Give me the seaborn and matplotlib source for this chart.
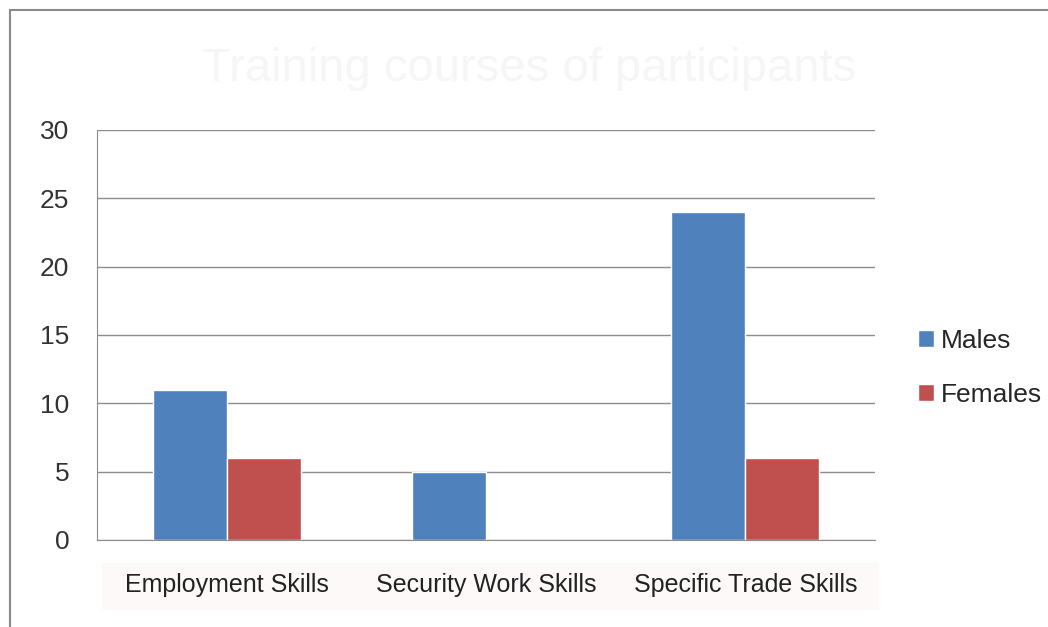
import pandas as pd
import seaborn as sns
import matplotlib.pyplot as plt
from matplotlib.patches import Rectangle

# chart data
categories = ['Employment Skills', 'Security Work Skills', 'Specific Trade Skills']
males = [11, 5, 24]
females = [6, 0, 6]
series = ['Males', 'Females']
colors = ['#4F81BD', '#C0504D']

df = pd.DataFrame({
    'category': categories * 2,
    'value': males + females,
    'group': [series[0]] * 3 + [series[1]] * 3,
})

sns.set_style('white')
plt.rcParams['font.family'] = ['Liberation Sans', 'DejaVu Sans']

fig = plt.figure(figsize=(10.48, 6.27), dpi=100)
ax = fig.add_axes([0.0926, 0.1388, 0.7424, 0.6539])

sns.barplot(data=df, x='category', y='value', hue='group', palette=colors,
            width=0.57, saturation=1, ax=ax, legend=True)

ax.set_ylim(0, 30)
ax.set_yticks(range(0, 31, 5))
ax.yaxis.grid(True, color='#8c8c8c', linewidth=1)
ax.set_axisbelow(True)
for s in ['top', 'right']:
    ax.spines[s].set_visible(False)
ax.spines['left'].set_color('#8c8c8c')
ax.spines['bottom'].set_color('#8c8c8c')
ax.set_xlabel('')
ax.set_ylabel('')
ax.tick_params(axis='y', labelsize=19, pad=20, colors='#333333', length=0)
ax.tick_params(axis='x', labelsize=18, pad=24, colors='#222222', length=0)

# legend
h, l = ax.get_legend_handles_labels()
ax.legend(h, l, loc='center left', bbox_to_anchor=(1.025, 0.42), frameon=False,
          fontsize=19, handlelength=0.6, handleheight=0.6, handletextpad=0.25,
          labelspacing=1.15)

# faint title
fig.text(0.505, 0.89, 'Training courses of participants', ha='center', va='center',
         fontsize=34, color='#f6f6f6')

# faint band behind category labels
fig.patches.append(Rectangle((0.097, 0.027), 0.742, 0.075, transform=fig.transFigure,
                             facecolor='#fdf9f9', edgecolor='none', zorder=-1))
# outer chart border
fig.patches.append(Rectangle((0.0095, -0.05), 1.1, 1.034, transform=fig.transFigure,
                             facecolor='none', edgecolor='#8a8a8a', linewidth=1.5))

fig.savefig('out.png', dpi=100)
